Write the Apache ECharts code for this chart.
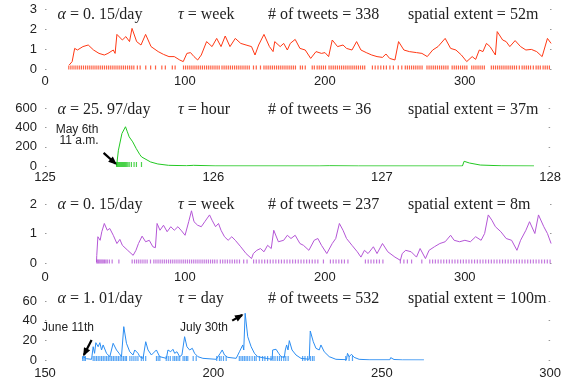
<!DOCTYPE html>
<html><head><meta charset="utf-8">
<script src="https://cdn.jsdelivr.net/npm/echarts@6/dist/echarts.min.js"></script>
<style>html,body{margin:0;padding:0;background:#fff}#c{width:564px;height:381px}</style>
</head><body><div id="c"></div>
<script>
// ---------- Panel 1 (red) ----------
const p1Days = [17.3,19.4,21.2,23.2,27.1,30.9,34.7,38.6,42.4,45.0,48.8,50.1,51.4,55.3,57.8,60.4,62.2,65.5,68.6,71.9,75.8,80.9,84.7,88.6,92.4,96.3,98.8,101.4,104.0,106.5,109.1,111.7,115.5,119.4,122.7,125.8,128.8,132.2,136.0,139.9,143.7,147.6,150.1,152.7,156.5,160.4,163.0,164.2,168.1,170.6,173.2,175.3,178.8,182.2,186.0,189.9,191.2,193.7,197.6,200.1,202.7,205.3,209.1,213.0,215.5,219.4,222.7,225.8,229.6,233.5,237.3,241.2,243.7,246.3,250.1,252.7,256.5,260.4,265.5,269.4,273.2,277.1,280.9,286.0,289.9,293.7,297.6,301.4,305.3,307.8,310.4,313.0,315.5,318.1,321.9,323.2,327.1,329.6,332.2,336.0,339.9,343.7,347.6,351.4,355.3,359.1,361.7];
const p1Vals = [0.2,0.37,1.03,0.95,1.12,1.2,0.95,0.78,0.7,0.78,0.95,0.78,1.73,1.45,1.62,1.37,2.03,1.37,1.2,1.73,1.12,0.87,0.73,0.62,0.62,0.45,0.37,0.78,0.82,0.62,0.45,0.7,1.37,1.12,1.53,1.12,1.65,1.12,1.53,1.28,1.2,1.12,0.7,1.2,1.73,1.12,0.87,1.37,1.12,1.28,0.95,1.28,1.48,1.03,0.95,0.53,0.45,0.87,0.78,0.82,0.62,1.45,1.12,1.2,1.03,0.95,1.37,0.95,0.82,0.7,0.62,0.58,0.75,0.53,0.45,1.37,0.95,0.87,0.82,0.78,0.62,0.95,1.12,1.53,1.03,0.95,0.7,0.37,0.62,0.48,0.95,0.87,1.28,1.12,0.7,1.87,1.45,1.37,1.12,1.42,1.12,0.95,0.98,0.87,0.62,1.53,1.28];
const p1Events = [17,18.5,20,21.5,23,24.5,26,27.5,29,30.5,32,33.5,35,36.5,38,39.5,41,42.5,44,45.5,47,48.5,50,51.5,53,54.5,56,57.5,59,60.5,62,63.5,66,68,72,75.5,79,83.5,86,91,93,99,100.5,102,103.5,105,106.5,108,109.5,111,112.5,114,115.5,117,118.5,120,121.5,123,124.5,126.5,128,129.5,131,132.5,134,135.5,137,138.5,140,141.5,143,144.5,146,149,151,154,156.5,158,159.5,161,162.5,164,165.5,167,168.5,170,171.5,173,174.5,176,177.5,179,182.5,184,186,191,192.5,194.5,196,197.5,199,200.5,203,204.5,206,207.5,209,210.5,212,213.5,215,216.5,218,219.5,221,222.5,224,225.5,227,228.5,234,236,238,240,242,244,246.5,249,252.5,255,257.5,259,260.5,262,263.5,265,266.5,268,269.5,273,274.5,276,277.5,279,280.5,282,283.5,285,286.5,288,291,292.5,294,295.5,297,298.5,300,301.5,305,306.5,308,309.5,311,312.5,314,319,320.5,322,323.5,325,326.5,328,329.5,331,332.5,334,335.5,337,339,341,342.5,344,345.5,347,349,351,352.5,354,356,357.5,359,360.5];

// ---------- Panel 2 (green) ----------
const p2Days = [125.425,125.436,125.457,125.468,125.478,125.489,125.500,125.521,125.542,125.563,125.574,125.585,125.627,125.670,125.734,125.840,125.846,125.883,126.010,126.628,126.634,126.691,126.862,127.479,127.489,127.521,127.585,127.713,127.904];
const p2Vals = [0,164,338,356,408,356,303,251,181,119,94,77,42,21,7,3,21,7,1,0.5,17,3,0.5,0.3,49,31,10,2,0.5];
const p2Events = [125.425,125.43,125.436,125.442,125.448,125.454,125.46,125.466,125.472,125.478,125.485,125.492,125.5,125.513,125.529,125.543,125.573];
const p2Arrow = [[125.348,136],[125.42,23]];

// ---------- Panel 3 (purple) ----------
const p3Days = [36.8,37.0,37.8,39.4,40.6,42.4,44.5,46.3,48.8,51.4,53.5,55.3,59.1,63.0,65.0,66.8,69.4,71.9,74.5,77.1,78.9,80.1,82.2,84.7,87.3,89.9,92.4,95.0,97.6,100.1,102.7,104.7,106.5,109.1,111.7,114.2,117.6,119.4,121.9,124.0,125.8,128.3,130.9,133.5,136.0,139.9,143.7,147.6,148.9,151.4,154.0,156.5,159.1,161.7,163.5,166.8,170.6,173.2,175.8,178.8,182.2,184.7,188.6,192.4,195.0,197.6,201.4,205.3,207.8,210.4,213.0,215.5,219.4,223.2,225.8,228.3,230.9,234.7,237.3,241.2,245.0,250.1,254.0,255.3,257.8,261.7,265.5,268.1,271.9,274.5,278.3,282.2,286.0,289.9,292.4,296.3,300.1,304.0,307.8,311.7,314.2,316.8,319.4,321.9,325.8,329.6,333.5,337.3,339.9,343.7,346.3,350.1,352.7,356.5,359.1,361.7];
const p3Vals = [0.03,0.26,0.89,0.77,1.06,1.34,1.11,1.17,0.94,0.66,0.8,0.6,0.43,0.26,0.43,0.66,0.91,0.72,0.77,0.55,0.52,1.34,1.11,1.28,1.06,1.23,1.11,1.23,1.09,0.94,1.4,1.77,1.4,1.28,1.23,1.4,1.63,1.45,1.23,1.34,1.11,0.89,0.77,0.89,0.77,0.55,0.32,0.15,0.32,0.43,0.49,0.38,0.6,0.49,1.11,0.72,0.77,0.94,0.83,0.94,0.66,0.6,0.43,0.77,0.83,0.6,0.32,0.66,0.83,1.34,1.11,0.83,0.6,0.38,0.2,0.43,0.32,0.55,0.32,0.66,0.38,0.2,0.09,0.32,0.43,0.38,0.2,0.49,0.15,0.43,0.55,0.66,0.72,0.94,0.77,0.72,0.77,0.72,0.89,0.77,1.0,1.63,1.45,1.23,1.06,0.83,0.77,0.43,0.77,1.11,1.4,1.0,1.63,1.23,1.0,0.66];
const p3Events = [37,37.7,38.4,39.2,40,40.8,41.6,42.5,43.5,44.5,46,48,52.8,62.3,64,65.5,67,68.5,70,71.5,73,75.4,77.8,79.3,80.8,82.3,83.8,85.3,86.8,88.3,89.8,91.3,92.8,94.3,95.8,97.3,98.8,100.3,101.8,103.3,104.8,106.3,107.8,109.3,110.8,112.3,113.8,115.3,116.8,118.3,119.8,121.3,123,125.3,127,128.7,130.4,132.1,133.8,135.5,137.2,139,142,144.4,149.1,151,153,155,157,159,161,163,165,167,169,171,173,175,177,179,181,183,185,187,189,191,193,195,199,204,206,208,210,212,214,216.5,229,231,233,235,237,239,241.5,254,256.5,259,262,269.3,275,277,279,281,283,285,287,289,291,293,295,297,299,301,303,305,307,309,311,313,315,317,319,321,323,325,327,329,331,333,335,337,339,341,343,345,347,349,351,353,355,357,359,361];

// ---------- Panel 4 (blue) ----------
const p4Days = [161.16,161.34,162.34,163.83,164.30,164.72,165.10,165.78,166.29,166.79,167.26,168.27,169.25,169.75,170.23,170.73,171.23,172.00,172.71,173.39,174.19,175.17,176.15,176.65,177.63,178.13,179.11,179.91,180.59,181.60,183.08,184.05,186.04,186.51,187.31,187.99,188.50,189.18,189.98,190.66,191.46,192.14,192.94,193.74,194.42,195.40,196.88,200.84,202.03,202.62,203.30,204.28,206.77,207.74,208.25,208.72,209.02,209.43,210.20,211.21,212.19,213.16,215.65,217.45,217.60,218.11,218.61,219.38,220.09,221.07,221.36,221.75,222.16,222.55,223.35,224.53,226.01,228.47,228.77,229.66,230.46,231.43,231.94,232.91,234.40,236.38,239.52,239.82,240.32,241.00,241.80,243.28,246.24,252.37,252.66,253.64,256.10,262.53];
const p4Vals = [1.3,3.4,1.3,0.7,13.5,6.8,17.6,13.5,17.6,10.2,15.3,6.8,3.4,2.7,17,15.3,10.2,6.8,3.4,33.9,17,8.4,5.1,10.2,6.8,3.4,1.7,18.6,10.2,5.1,10.2,3.4,1.7,10.2,8.4,10.9,6.8,8.4,3.4,5.1,23.7,13.5,10.2,11.9,6.8,3.4,1.7,0.7,6.8,10.2,5.1,2.7,1.7,8.4,10.2,15.3,10.2,47.5,23.7,13.5,6.8,3.4,1.7,0.7,10.2,8.4,10.9,6.8,3.4,2.7,10.2,15.3,10.2,19.7,10.2,5.1,1.7,0.7,29.5,18.6,11.9,10.2,15.3,8.4,3.4,0.7,0.3,6.8,3.4,5.8,2.7,0.7,0.2,0.2,2.4,0.5,0.1,0.05];
const p4Events = [161.2,161.6,162,164.3,164.8,165.3,165.8,166.3,166.8,167.3,167.8,168.3,168.8,169.3,169.8,170.3,170.8,171.3,171.8,172.3,172.8,173.3,173.8,174.2,175.2,175.8,176.4,177,177.6,178.6,179.2,179.9,183.1,183.6,184.1,186,186.6,187.2,188,188.5,189,189.5,190,191,191.5,192,192.4,194,194.9,201,201.8,202.3,203,203.8,207.7,208.2,208.7,209.2,209.7,210.2,210.8,211.5,212.2,212.7,213.7,214.6,215.3,216.1,217.1,217.7,218.3,219,219.6,220.2,220.9,221.5,222.2,226.5,227.2,228,228.8,229.4,229.9,239.3,240.3,241.3];
const p4ArrowJune = [[163.83,20.3],[161.55,5.1]];
const p4ArrowJuly = [[205.58,40],[208.54,45.8]];

// ---------- axes / labels ----------
const xRanges = [[0,362,100],[125,128,1],[0,362,100],[150,300,50]];
const yRanges = [[0,3,1],[0,600,200],[0,2,1],[0,60,20]];
const colors = ['#ff3814','#22c822','#b456d6','#2b8df2'];
const headers = [
  ['{i|α} = 0. 15/day','{i|τ} = week','# of tweets = 338','spatial extent = 52m'],
  ['{i|α} = 25. 97/day','{i|τ} = hour','# of tweets = 36','spatial extent = 37m'],
  ['{i|α} = 0. 15/day','{i|τ} = week','# of tweets = 237','spatial extent = 8m'],
  ['{i|α} = 1. 01/day','{i|τ} = day','# of tweets = 532','spatial extent = 100m']
];

// layout
const gridTops = [9, 108.3, 204, 301];
const gridHeights = [60, 57.7, 59, 59];
const labelMargins = [6, 5, 8, 7];
const headerX = [57.5, 178, 268, 408];
const headerY = [15, 110, 205, 299];

const lineSets = [[p1Days,p1Vals],[p2Days,p2Vals],[p3Days,p3Vals],[p4Days,p4Vals]];
const eventSets = [p1Events,p2Events,p3Events,p4Events];
const arrowSets = [[], [p2Arrow], [], [p4ArrowJune, p4ArrowJuly]];

const grids=[], xAxes=[], yAxes=[], series=[], graphics=[];
const sans = '"Liberation Sans", Arial, sans-serif';
const serif = '"Liberation Serif", "Times New Roman", serif';
for (let i=0;i<4;i++){
  grids.push({left:45, width:506.5, top:gridTops[i], height:gridHeights[i]});
  const xr = xRanges[i];
  xAxes.push({type:'value', gridIndex:i, min:xr[0], max:xr[1], interval:xr[2],
    axisLine:{show:false}, axisTick:{show:false}, splitLine:{show:false},
    axisLabel:{color:'#222', fontFamily:sans, fontSize:13, margin:labelMargins[i], showMaxLabel: xr[1]%xr[2]===0}});
  const yr = yRanges[i];
  yAxes.push({type:'value', gridIndex:i, min:yr[0], max:yr[1], interval:yr[2], position:'left',
    axisLine:{show:false}, splitLine:{show:false},
    axisTick:{show:true, inside:true, length:1.5, lineStyle:{color:'#999'}},
    axisLabel:{color:'#222', fontFamily:sans, fontSize:13, margin:8}});
  yAxes.push({type:'value', gridIndex:i, min:yr[0], max:yr[1], interval:yr[2], position:'right',
    axisLine:{show:false}, splitLine:{show:false},
    axisTick:{show:true, inside:true, length:1.5, lineStyle:{color:'#999'}},
    axisLabel:{show:false}});
  const [d,v] = lineSets[i];
  series.push({type:'line', xAxisIndex:i, yAxisIndex:2*i, data:d.map((x,k)=>[x,v[k]]),
    showSymbol:false, lineStyle:{color:colors[i], width:1}, silent:true, animation:false, z:3});
  series.push({type:'scatter', xAxisIndex:i, yAxisIndex:2*i, data:eventSets[i].map(x=>[x,0]),
    symbol:'rect', symbolSize:[1.2, i===1||i===3?5:4], symbolOffset:[0,-1.5],
    itemStyle:{color:colors[i]}, silent:true, animation:false, z:2});
  // annotation arrows: shaft as a line series, head as a rotated triangle at the tip
  arrowSets[i].forEach(a=>{
    const [p0,p1] = a;
    series.push({type:'line', xAxisIndex:i, yAxisIndex:2*i, data:[p0,p1], showSymbol:false,
      lineStyle:{color:'#000', width:2.2}, silent:true, animation:false, z:10,
      markPoint:null});
  });
  headers[i].forEach((t,k)=>{
    graphics.push({type:'text', x:headerX[k], y:headerY[i], silent:true,
      style:{text:t, fontFamily:serif, fontSize:16, fill:'#222', align:'left', verticalAlign:'middle',
        rich:{i:{fontStyle:'italic', fontFamily:serif, fontSize:16, fill:'#222'}}}});
  });
}
// arrow heads (computed from the axis scales after layout)
const notes = [['May 6th',77,130],['11 a.m.',79,141],['June 11th',68,328],['July 30th',204,328]];
notes.forEach(n=>graphics.push({type:'text', x:n[1], y:n[2], silent:true,
  style:{text:n[0], fontFamily:sans, fontSize:12, fill:'#222', align:'center', verticalAlign:'middle'}}));

const chart = echarts.init(document.getElementById('c'), null, {renderer:'canvas'});
chart.setOption({animation:false, backgroundColor:'#fff', grid:grids, xAxis:xAxes, yAxis:yAxes, series:series, graphic:graphics});

const heads = [];
arrowSets.forEach((set,i)=>set.forEach(a=>{
  const s = chart.convertToPixel({xAxisIndex:i, yAxisIndex:2*i}, a[0]);
  const e = chart.convertToPixel({xAxisIndex:i, yAxisIndex:2*i}, a[1]);
  const ang = Math.atan2(e[1]-s[1], e[0]-s[0]);
  const L = 7, W = 3.5;
  const bx = e[0]-L*Math.cos(ang), by = e[1]-L*Math.sin(ang);
  const nx = -Math.sin(ang)*W, ny = Math.cos(ang)*W;
  heads.push({type:'polygon', silent:true, z:20,
    shape:{points:[[e[0]+Math.cos(ang)*1.5,e[1]+Math.sin(ang)*1.5],[bx+nx,by+ny],[bx-nx,by-ny]]},
    style:{fill:'#000'}});
}));
chart.setOption({graphic: graphics.concat(heads)});
</script></body></html>
